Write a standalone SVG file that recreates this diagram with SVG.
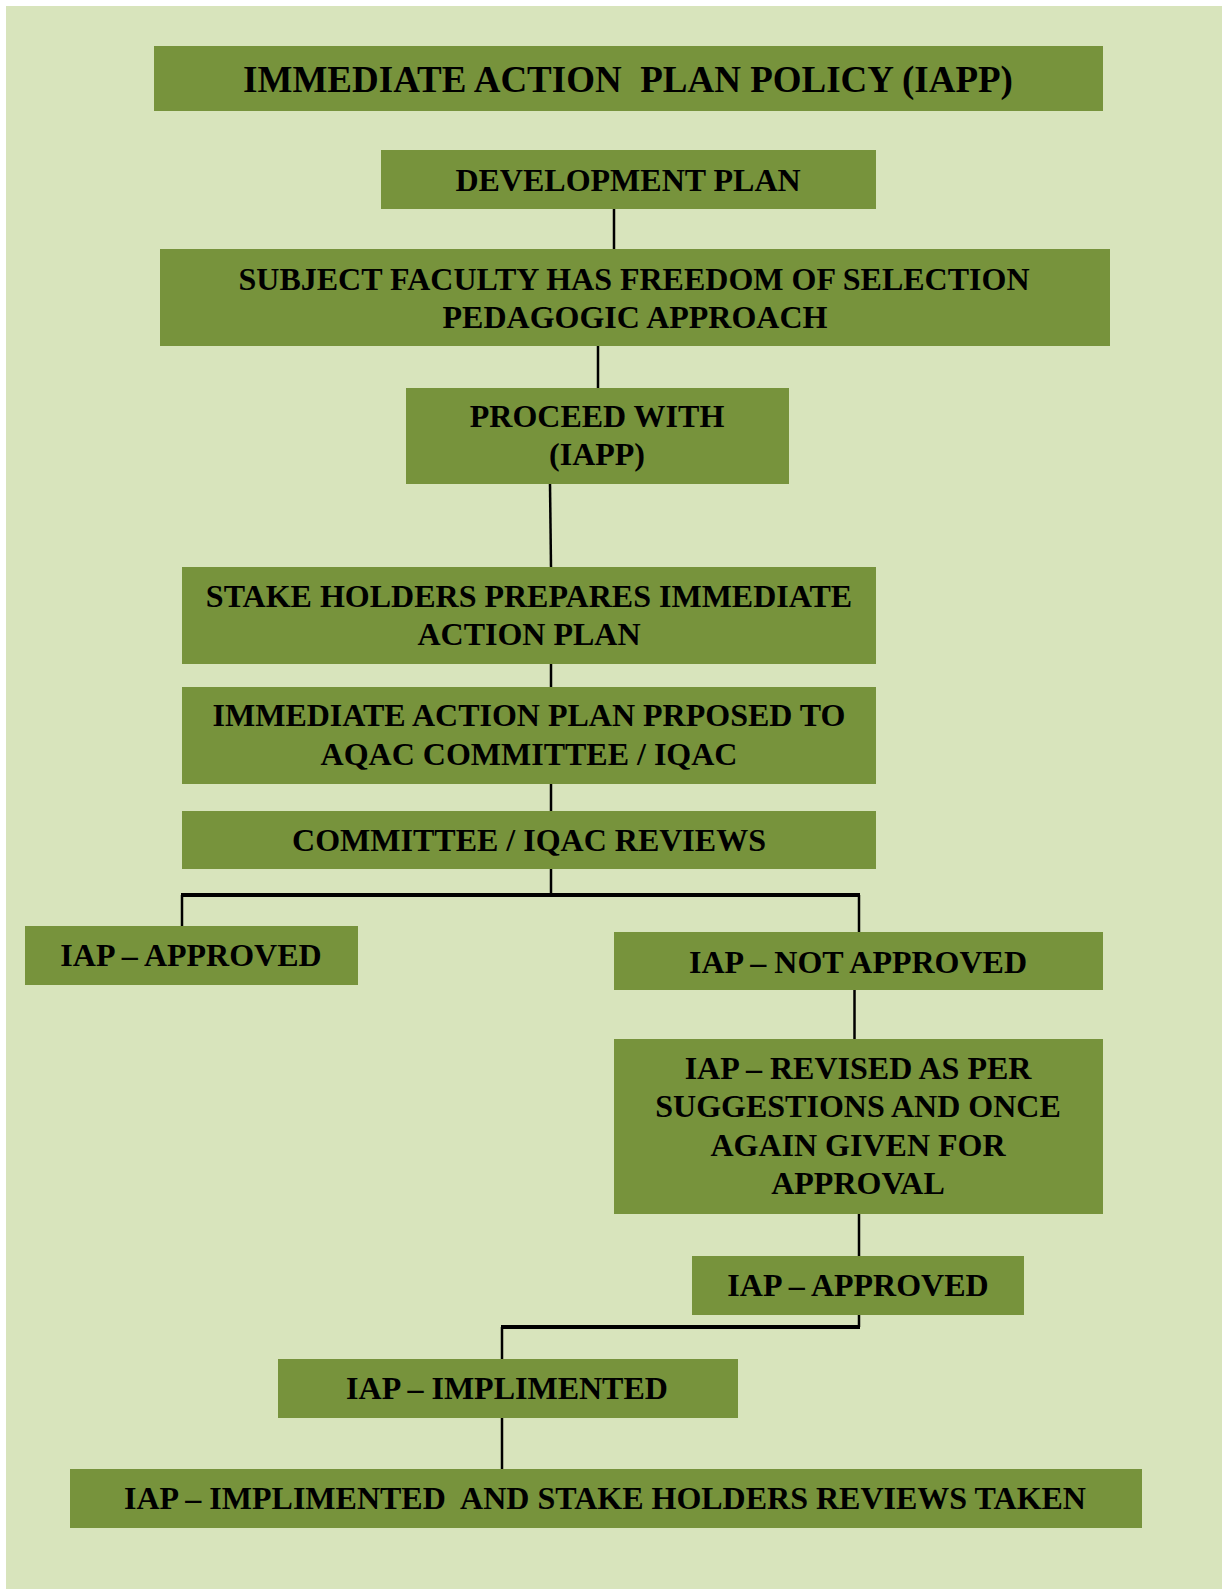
<svg xmlns="http://www.w3.org/2000/svg" width="1226" height="1589" viewBox="0 0 1226 1589">
<style>
.bg{fill:#d8e4bc}
.box{fill:#77933c}
.t{font-family:"Liberation Serif","Times New Roman",serif;font-weight:bold;font-size:32px;fill:#000;text-anchor:middle}
.ttl{font-size:37px}
.c{stroke:#000;stroke-width:2.5;fill:none}
.h{stroke:#000;stroke-width:4;fill:none}
</style>
<rect class="bg" x="6" y="6" width="1216" height="1583"/>
<g id="connectors">
<line class="c" x1="614" y1="206" x2="614" y2="249"/>
<line class="c" x1="598" y1="346" x2="598" y2="388"/>
<line class="c" x1="550" y1="484" x2="551" y2="567"/>
<line class="c" x1="551" y1="664" x2="551" y2="687"/>
<line class="c" x1="551" y1="784" x2="551" y2="811"/>
<line class="c" x1="551" y1="869" x2="551" y2="895"/>
<line class="h" x1="181" y1="895" x2="860" y2="895"/>
<line class="c" x1="182" y1="895" x2="182" y2="926"/>
<line class="c" x1="859" y1="895" x2="859" y2="932"/>
<line class="c" x1="854.5" y1="990" x2="854.5" y2="1039"/>
<line class="c" x1="859" y1="1213" x2="859" y2="1256"/>
<line class="c" x1="859" y1="1315" x2="859" y2="1327"/>
<line class="h" x1="501" y1="1327" x2="860" y2="1327"/>
<line class="c" x1="502" y1="1327" x2="502" y2="1359"/>
<line class="c" x1="502" y1="1418" x2="502" y2="1469"/>
</g>
<g id="title"><rect class="box" x="154" y="46" width="949" height="65"/><text class="t ttl" x="628" y="92" xml:space="preserve">IMMEDIATE ACTION  PLAN POLICY (IAPP)</text></g>
<g id="dev"><rect class="box" x="381" y="150" width="495" height="59"/><text class="t" x="628" y="191">DEVELOPMENT PLAN</text></g>
<g id="subject"><rect class="box" x="160" y="249" width="950" height="97"/><text class="t" x="634" y="290">SUBJECT FACULTY HAS FREEDOM OF SELECTION</text><text class="t" x="635" y="328">PEDAGOGIC APPROACH</text></g>
<g id="proceed"><rect class="box" x="406" y="388" width="383" height="96"/><text class="t" x="597" y="427">PROCEED WITH</text><text class="t" x="597" y="465">(IAPP)</text></g>
<g id="stake"><rect class="box" x="182" y="567" width="694" height="97"/><text class="t" x="529" y="607">STAKE HOLDERS PREPARES IMMEDIATE</text><text class="t" x="529" y="645">ACTION PLAN</text></g>
<g id="proposed"><rect class="box" x="182" y="687" width="694" height="97"/><text class="t" x="529" y="726">IMMEDIATE ACTION PLAN PRPOSED TO</text><text class="t" x="529" y="765">AQAC COMMITTEE / IQAC</text></g>
<g id="reviews"><rect class="box" x="182" y="811" width="694" height="58"/><text class="t" x="529" y="851">COMMITTEE / IQAC REVIEWS</text></g>
<g id="approved1"><rect class="box" x="25" y="926" width="333" height="59"/><text class="t" x="191" y="966">IAP – APPROVED</text></g>
<g id="notapproved"><rect class="box" x="614" y="932" width="489" height="58"/><text class="t" x="858" y="973">IAP – NOT APPROVED</text></g>
<g id="revised"><rect class="box" x="614" y="1039" width="489" height="175"/><text class="t" x="858" y="1079">IAP – REVISED AS PER</text><text class="t" x="858" y="1117">SUGGESTIONS AND ONCE</text><text class="t" x="858" y="1156">AGAIN GIVEN FOR</text><text class="t" x="858" y="1194">APPROVAL</text></g>
<g id="approved2"><rect class="box" x="692" y="1256" width="332" height="59"/><text class="t" x="858" y="1296">IAP – APPROVED</text></g>
<g id="implimented"><rect class="box" x="278" y="1359" width="460" height="59"/><text class="t" x="507" y="1399">IAP – IMPLIMENTED</text></g>
<g id="final"><rect class="box" x="70" y="1469" width="1072" height="59"/><text class="t" x="605" y="1509" xml:space="preserve">IAP – IMPLIMENTED  AND STAKE HOLDERS REVIEWS TAKEN</text></g>
</svg>
